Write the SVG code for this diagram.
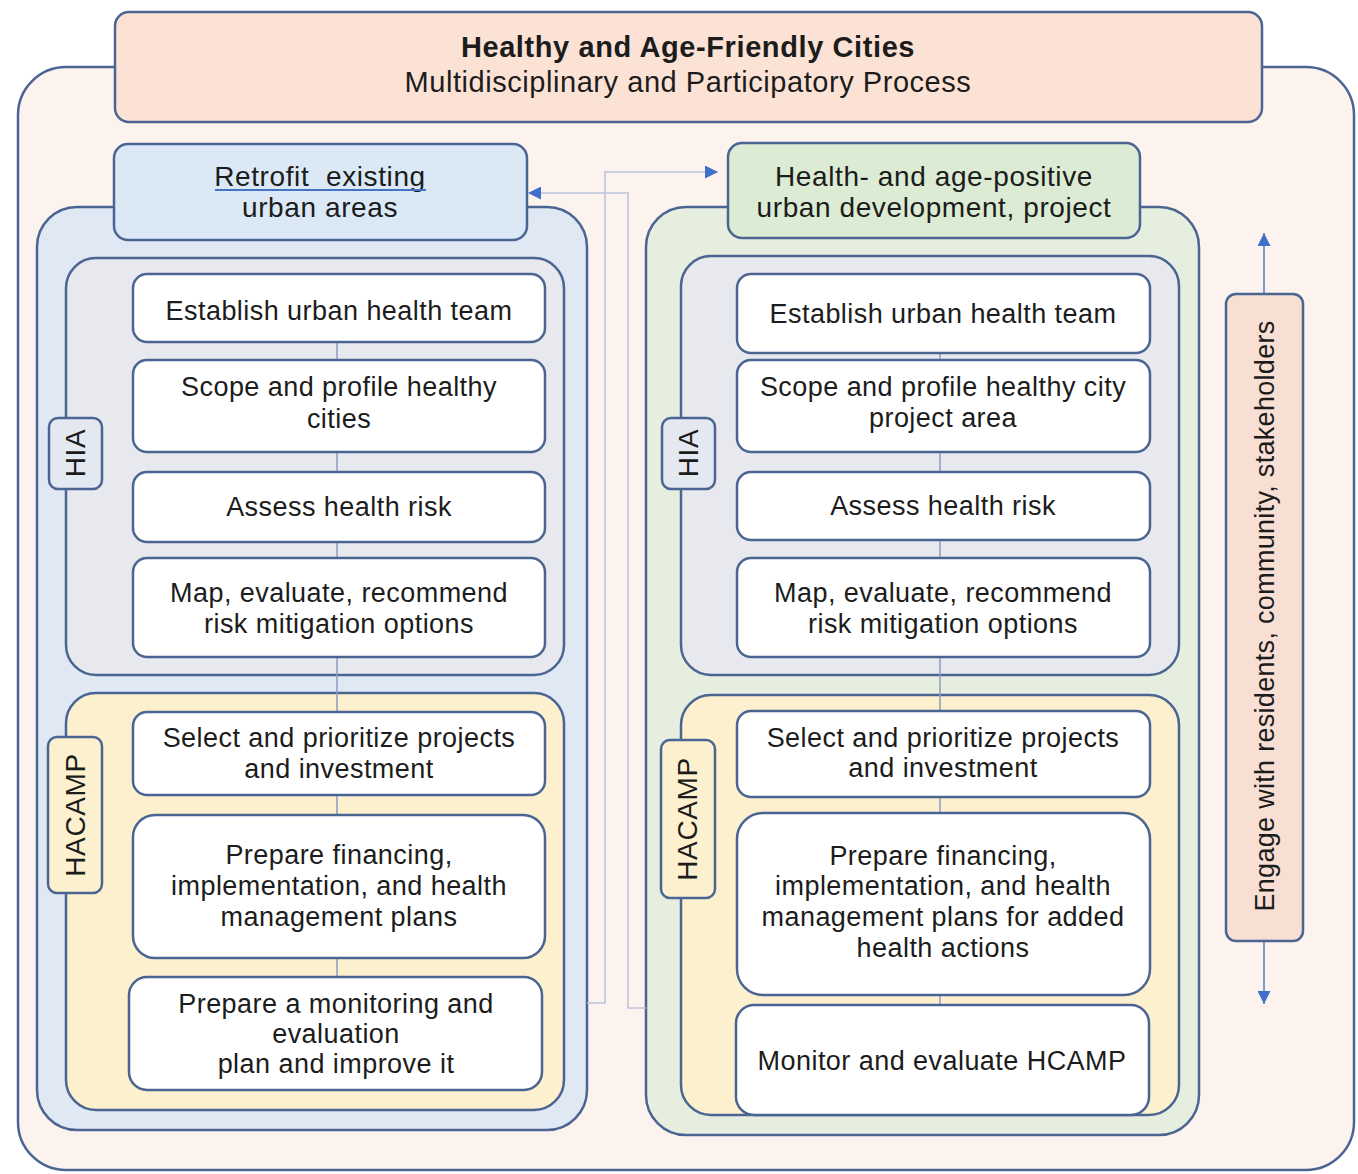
<svg xmlns="http://www.w3.org/2000/svg" width="1358" height="1174" viewBox="0 0 1358 1174">
<style>
.box{stroke:#4b6593;stroke-width:2.5}
.step{fill:#ffffff;stroke:#4b6593;stroke-width:2.5}
.t{font-family:"Liberation Sans",Arial,sans-serif;font-size:27px;letter-spacing:0.45px;fill:#1c1c1c;text-anchor:middle}
.h{font-size:28px;letter-spacing:0.6px}
.title{font-size:29px;font-weight:bold;letter-spacing:0.6px}
.sub{font-size:29px;letter-spacing:0.55px}
.lbl{font-size:28px;letter-spacing:0.6px}
.eng{font-size:27px;letter-spacing:0.3px}
.spine{stroke:#8e9bbf;stroke-width:1.5;fill:none}
.link{stroke:#bcc4d8;stroke-width:1.6;fill:none}
.eline{stroke:#7f9ad0;stroke-width:2;fill:none}
</style>
<defs>
<marker id="arr" viewBox="0 0 10 10" refX="10" refY="5" markerUnits="userSpaceOnUse" markerWidth="14" markerHeight="13" orient="auto">
<path d="M0,0 L10,5 L0,10 z" fill="#3f6fc6"/>
</marker>
</defs>

<g id="outer">
<rect class="box" x="18" y="67" width="1336" height="1103" rx="48" fill="#fdf3ee"/>
</g>
<g id="header">
<rect class="box" x="115" y="12" width="1147" height="110" rx="14" fill="#fbe2d5"/>
<text class="t title" x="688" y="57">Healthy and Age-Friendly Cities</text>
<text class="t sub" x="688" y="92">Multidisciplinary and Participatory Process</text>
</g>

<g id="lane-left">
<rect class="box" x="37" y="207" width="550" height="923" rx="40" fill="#dfe8f3"/>
</g>
<g id="lane-right">
<rect class="box" x="646" y="207" width="553" height="928" rx="40" fill="#e6eedf"/>
</g>
<g id="header-left">
<rect class="box" x="114" y="144" width="413" height="96" rx="14" fill="#dbe8f6"/>
<text class="t h" x="320" y="186" xml:space="preserve">Retrofit  existing</text>
<line x1="215" y1="190" x2="426" y2="190" stroke="#4472c4" stroke-width="2"/>
<text class="t h" x="320" y="217">urban areas</text>
</g>
<g id="header-right">
<rect class="box" x="728" y="143" width="412" height="95" rx="14" fill="#dcebd3"/>
<text class="t h" x="934" y="186">Health- and age-positive</text>
<text class="t h" x="934" y="217">urban development, project</text>
</g>

<g id="hia-left">
<rect class="box" x="66" y="258" width="498" height="417" rx="30" fill="#e8e9ee"/>
</g>
<g id="hacamp-left">
<rect class="box" x="66" y="693" width="498" height="417" rx="30" fill="#fdf0cf"/>
</g>
<g id="hia-right">
<rect class="box" x="681" y="256" width="498" height="419" rx="30" fill="#e8e9ee"/>
</g>
<g id="hacamp-right">
<rect class="box" x="681" y="695" width="498" height="420" rx="30" fill="#fdf0cf"/>
</g>

<g id="label-hia-left">
<rect class="box" x="49" y="418" width="53" height="71" rx="9" fill="#e4e8f1"/>
<text class="t lbl" transform="translate(85,453) rotate(-90)">HIA</text>
</g>
<g id="label-hacamp-left">
<rect class="box" x="48" y="737" width="54" height="156" rx="9" fill="#fdf0cf"/>
<text class="t lbl" transform="translate(85,815) rotate(-90)">HACAMP</text>
</g>
<g id="label-hia-right">
<rect class="box" x="662" y="418" width="53" height="71" rx="9" fill="#e4e8f1"/>
<text class="t lbl" transform="translate(698,453) rotate(-90)">HIA</text>
</g>
<g id="label-hacamp-right">
<rect class="box" x="661" y="740" width="54" height="158" rx="9" fill="#fdf0cf"/>
<text class="t lbl" transform="translate(697,819) rotate(-90)">HACAMP</text>
</g>

<g id="connectors">
<line class="spine" x1="337" y1="342" x2="337" y2="978"/>
<line class="spine" x1="940" y1="353" x2="940" y2="1005"/>
<path class="link" d="M587,1003 H605 V172 H718" marker-end="url(#arr)"/>
<path class="link" d="M646,1008 H628 V193 H528" marker-end="url(#arr)"/>
<path class="eline" d="M1264,294 V233" marker-end="url(#arr)"/>
<path class="eline" d="M1264,941 V1004" marker-end="url(#arr)"/>
</g>

<g id="l1"><rect class="step" x="133" y="274" width="412" height="68" rx="14"/>
<text class="t" x="339" y="320">Establish urban health team</text></g>
<g id="l2"><rect class="step" x="133" y="360" width="412" height="92" rx="14"/>
<text class="t" x="339" y="396">Scope and profile healthy</text>
<text class="t" x="339" y="428">cities</text></g>
<g id="l3"><rect class="step" x="133" y="472" width="412" height="70" rx="14"/>
<text class="t" x="339" y="516">Assess health risk</text></g>
<g id="l4"><rect class="step" x="133" y="558" width="412" height="99" rx="14"/>
<text class="t" x="339" y="602">Map, evaluate, recommend</text>
<text class="t" x="339" y="633">risk mitigation options</text></g>
<g id="l5"><rect class="step" x="133" y="712" width="412" height="83" rx="14"/>
<text class="t" x="339" y="747">Select and prioritize projects</text>
<text class="t" x="339" y="778">and investment</text></g>
<g id="l6"><rect class="step" x="133" y="815" width="412" height="143" rx="22"/>
<text class="t" x="339" y="864">Prepare financing,</text>
<text class="t" x="339" y="895">implementation, and health</text>
<text class="t" x="339" y="926">management plans</text></g>
<g id="l7"><rect class="step" x="129" y="977" width="413" height="113" rx="18"/>
<text class="t" x="336" y="1013">Prepare a monitoring and</text>
<text class="t" x="336" y="1043">evaluation</text>
<text class="t" x="336" y="1073">plan and improve it</text></g>

<g id="r1"><rect class="step" x="737" y="274" width="413" height="79" rx="14"/>
<text class="t" x="943" y="323">Establish urban health team</text></g>
<g id="r2"><rect class="step" x="737" y="360" width="413" height="92" rx="14"/>
<text class="t" x="943" y="396">Scope and profile healthy city</text>
<text class="t" x="943" y="427">project area</text></g>
<g id="r3"><rect class="step" x="737" y="472" width="413" height="68" rx="14"/>
<text class="t" x="943" y="515">Assess health risk</text></g>
<g id="r4"><rect class="step" x="737" y="558" width="413" height="99" rx="14"/>
<text class="t" x="943" y="602">Map, evaluate, recommend</text>
<text class="t" x="943" y="633">risk mitigation options</text></g>
<g id="r5"><rect class="step" x="737" y="711" width="413" height="86" rx="14"/>
<text class="t" x="943" y="747">Select and prioritize projects</text>
<text class="t" x="943" y="777">and investment</text></g>
<g id="r6"><rect class="step" x="737" y="813" width="413" height="182" rx="26"/>
<text class="t" x="943" y="865">Prepare financing,</text>
<text class="t" x="943" y="895">implementation, and health</text>
<text class="t" x="943" y="926">management plans for added</text>
<text class="t" x="943" y="957">health actions</text></g>
<g id="r7"><rect class="step" x="736" y="1005" width="413" height="110" rx="18"/>
<text class="t" x="942" y="1070">Monitor and evaluate HCAMP</text></g>

<g id="engage">
<rect class="box" x="1226" y="294" width="77" height="647" rx="10" fill="#f8dfd3"/>
<text class="t eng" transform="translate(1274,616) rotate(-90)">Engage with residents, community, stakeholders</text>
</g>
</svg>
